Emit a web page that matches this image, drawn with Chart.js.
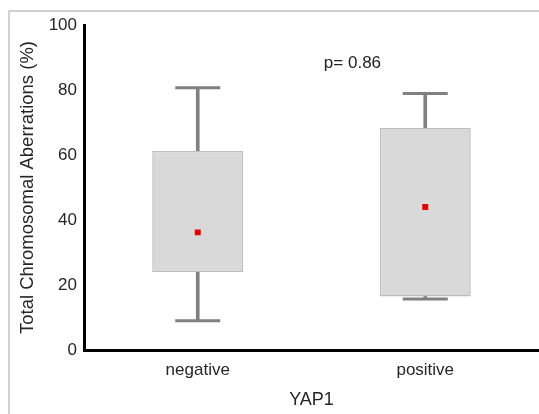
<!DOCTYPE html>
<html>
<head>
<meta charset="utf-8">
<script src="https://cdn.jsdelivr.net/npm/chart.js@4/dist/chart.umd.min.js"></script>
<style>
  html, body { margin: 0; padding: 0; background: #fff; }
  canvas { display: block; }
</style>
</head>
<body>
<canvas id="yapChart" width="539" height="414"></canvas>
<script>
// box plot summary per YAP1 group
const categories = ["negative", "positive"];
const whiskerLow = [9.0, 15.7];
const q1 = [23.9, 16.5];
const q3 = [61.3, 68.3];
const whiskerHigh = [80.7, 78.9];
const means = [36.2, 44.0];
const yTicks = [0, 20, 40, 60, 80, 100];
const pValueText = "p= 0.86";

const fontFamily = "'Liberation Sans', Arial, sans-serif";
const whiskerColor = "#808080";

// thin light frame around the figure + the p-value note
const framePlugin = {
  id: "frame",
  beforeDraw(chart) {
    const ctx = chart.ctx;
    ctx.save();
    ctx.strokeStyle = "#d2d2d2";
    ctx.lineWidth = 2;
    ctx.beginPath();
    ctx.moveTo(9, chart.height);
    ctx.lineTo(9, 11);
    ctx.lineTo(chart.width, 11);
    ctx.stroke();
    ctx.restore();
  },
  afterDatasetsDraw(chart) {
    const { ctx, scales } = chart;
    const x0 = scales.x.getPixelForValue(0);
    const x1 = scales.x.getPixelForValue(1);
    ctx.save();
    ctx.font = "17px " + fontFamily;
    ctx.fillStyle = "#222";
    ctx.textAlign = "center";
    ctx.textBaseline = "middle";
    ctx.fillText(pValueText, x0 + 0.68 * (x1 - x0), scales.y.getPixelForValue(88.2));
    ctx.restore();
  }
};

const ctx = document.getElementById("yapChart").getContext("2d");

const yapChart = new Chart(ctx, {
  type: "bar",
  data: {
    labels: categories,
    datasets: [
      {
        // whisker stems
        data: categories.map((c, i) => [whiskerLow[i], q1[i]]),
        backgroundColor: whiskerColor,
        barThickness: 3,
        grouped: false,
        order: 3
      },
      {
        data: categories.map((c, i) => [q3[i], whiskerHigh[i]]),
        backgroundColor: whiskerColor,
        barThickness: 3,
        grouped: false,
        order: 3
      },
      {
        // boxes (Q1 - Q3)
        data: categories.map((c, i) => [q1[i], q3[i]]),
        backgroundColor: "#d9d9d9",
        borderColor: "#bdbdbd",
        borderWidth: 1.5,
        borderSkipped: false,
        barPercentage: 0.4,
        categoryPercentage: 1,
        grouped: false,
        order: 2
      },
      {
        // whisker caps
        type: "line",
        data: whiskerHigh,
        showLine: false,
        pointStyle: "line",
        pointRadius: 22.5,
        pointBorderWidth: 3,
        pointBorderColor: whiskerColor,
        order: 1
      },
      {
        type: "line",
        data: whiskerLow,
        showLine: false,
        pointStyle: "line",
        pointRadius: 22.5,
        pointBorderWidth: 3,
        pointBorderColor: whiskerColor,
        order: 1
      },
      {
        // means
        type: "line",
        data: means,
        showLine: false,
        pointStyle: "rect",
        pointRadius: 4.2,
        pointBorderWidth: 0,
        pointBackgroundColor: "#e60000",
        order: 0
      }
    ]
  },
  options: {
    responsive: false,
    animation: false,
    events: [],
    layout: { autoPadding: false, padding: { top: 25, right: 0, left: 0, bottom: 0 } },
    plugins: {
      legend: { display: false },
      tooltip: { enabled: false }
    },
    scales: {
      x: {
        offset: true,
        grid: { display: false, drawTicks: false },
        border: { display: true, color: "#000", width: 3 },
        ticks: {
          padding: 10,
          color: "#262626",
          font: { family: fontFamily, size: 17 }
        },
        title: {
          display: true,
          text: "YAP1",
          color: "#262626",
          font: { family: fontFamily, size: 18 },
          padding: { top: 0, bottom: 3 }
        },
        afterFit(scale) { scale.height = 64; }
      },
      y: {
        min: 0,
        max: 100,
        afterBuildTicks(scale) { scale.ticks = yTicks.map(v => ({ value: v })); },
        grid: { display: false, drawTicks: false },
        border: { display: true, color: "#000", width: 3 },
        ticks: {
          padding: 7,
          color: "#262626",
          font: { family: fontFamily, size: 17 }
        },
        title: {
          display: true,
          text: "Total Chromosomal Aberrations (%)",
          color: "#262626",
          font: { family: fontFamily, size: 18.5 },
          padding: { top: 17, bottom: 0 }
        },
        afterFit(scale) { scale.width = 84; }
      }
    }
  },
  plugins: [framePlugin]
});
</script>
</body>
</html>
